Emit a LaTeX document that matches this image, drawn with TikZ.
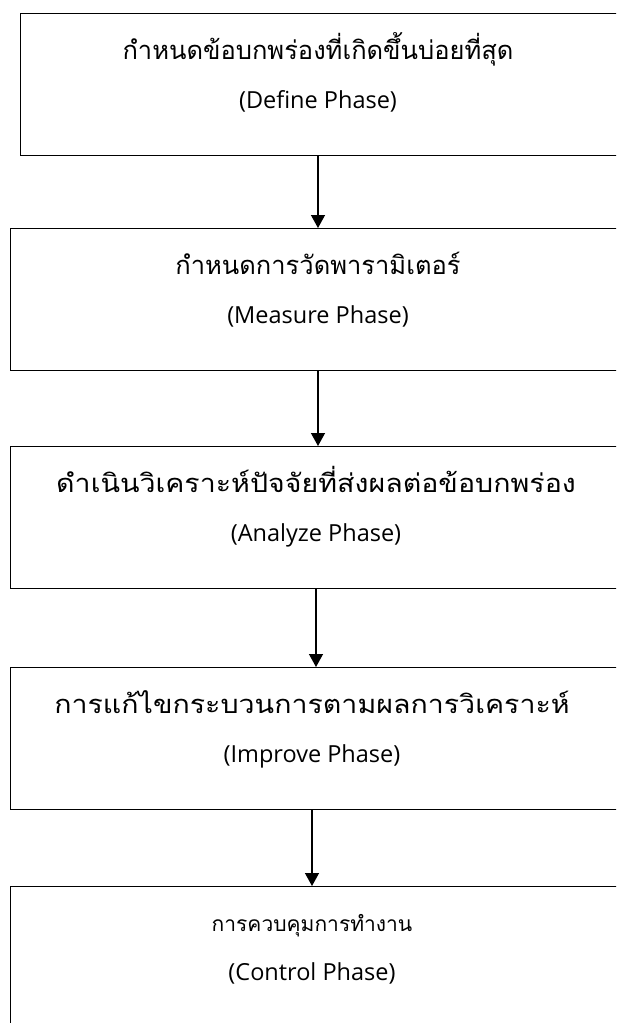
\documentclass[tikz,border=0pt]{standalone}
\usepackage{fontspec}
\setmainfont{Open Sans}
\newfontfamily\thaifont[Script=Thai]{Loma}
\usetikzlibrary{arrows.meta}
\begin{document}
\begin{tikzpicture}[x=1pt,y=1pt,
  phasebox/.style={draw=black, line width=1.3pt, rectangle, inner sep=0pt, anchor=north west, minimum width=640pt, minimum height=142pt},
  thaitext/.style={font=\thaifont\fontsize{25.5}{30}\selectfont, anchor=base, inner sep=0pt},
  thaiwide/.style={thaitext, xscale=1.12, transform shape},
  thaismall/.style={font=\thaifont\fontsize{21}{25}\selectfont, anchor=base, inner sep=0pt},
  engtext/.style={font=\fontsize{23.5}{28}\selectfont, anchor=base, inner sep=0pt},
  flowarrow/.style={line width=1.3pt, -{Triangle[width=14pt,length=13pt]}}]
\clip (0,0) rectangle (616,-1023);
\fill[white] (0,0) rectangle (616,-1023);
\node[phasebox] (b1) at (20,-13) {};
\node[phasebox] (b2) at (10,-228) {};
\node[phasebox] (b3) at (10,-446) {};
\node[phasebox] (b4) at (10,-667) {};
\node[phasebox, minimum height=160pt] (b5) at (10,-886) {};
\node[thaitext] (t1) at (318,-59) {กำหนดข้อบกพร่องที่เกิดขึ้นบ่อยที่สุด};
\node[engtext] (e1) at (318,-108) {(Define Phase)};
\node[thaitext] (t2) at (318,-274) {กำหนดการวัดพารามิเตอร์};
\node[engtext] (e2) at (318,-323) {(Measure Phase)};
\node[thaiwide] (t3) at (316,-492) {ดำเนินวิเคราะห์ปัจจัยที่ส่งผลต่อข้อบกพร่อง};
\node[engtext] (e3) at (316,-541) {(Analyze Phase)};
\node[thaiwide] (t4) at (312,-713) {การแก้ไขกระบวนการตามผลการวิเคราะห์};
\node[engtext] (e4) at (312,-762) {(Improve Phase)};
\node[thaismall] (t5) at (312,-931) {การควบคุมการทำงาน};
\node[engtext] (e5) at (312,-980) {(Control Phase)};
\draw[flowarrow] (b1.south -| t1) -- (b2.north -| t1);
\draw[flowarrow] (b2.south -| t2) -- (b3.north -| t2);
\draw[flowarrow] (b3.south -| t3) -- (b4.north -| t3);
\draw[flowarrow] (b4.south -| t4) -- (b5.north -| t4);
\end{tikzpicture}
\end{document}
